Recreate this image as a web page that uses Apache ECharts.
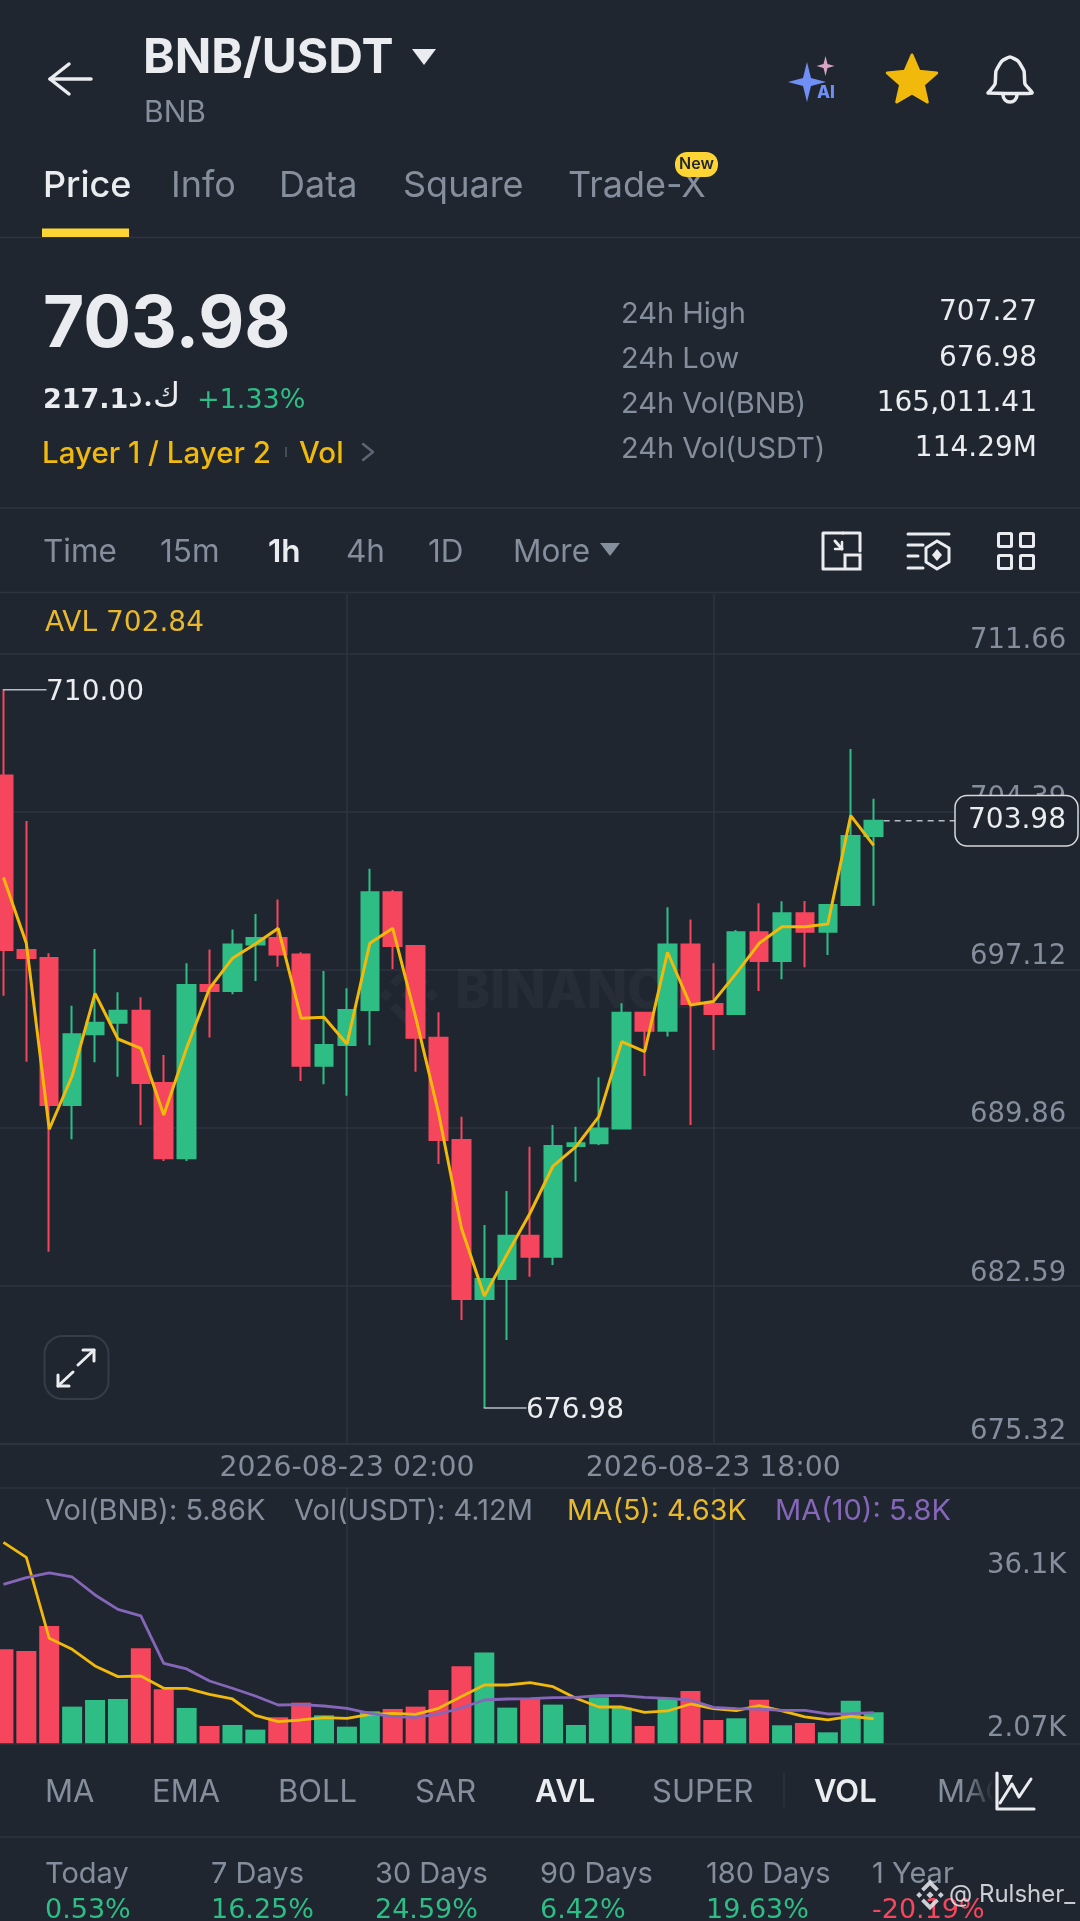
<!DOCTYPE html>
<html><head><meta charset="utf-8">
<style>html,body{margin:0;padding:0;background:#1f2630}#c{width:1080px;height:1921px}</style>
<script src="https://cdn.jsdelivr.net/npm/echarts@6/dist/echarts.min.js"></script>
</head><body><div id="c"></div>
<script>
const categories=['2026-08-22 11:00','2026-08-22 12:00','2026-08-22 13:00','2026-08-22 14:00','2026-08-22 15:00','2026-08-22 16:00','2026-08-22 17:00','2026-08-22 18:00','2026-08-22 19:00','2026-08-22 20:00','2026-08-22 21:00','2026-08-22 22:00','2026-08-22 23:00','2026-08-23 00:00','2026-08-23 01:00','2026-08-23 02:00','2026-08-23 03:00','2026-08-23 04:00','2026-08-23 05:00','2026-08-23 06:00','2026-08-23 07:00','2026-08-23 08:00','2026-08-23 09:00','2026-08-23 10:00','2026-08-23 11:00','2026-08-23 12:00','2026-08-23 13:00','2026-08-23 14:00','2026-08-23 15:00','2026-08-23 16:00','2026-08-23 17:00','2026-08-23 18:00','2026-08-23 19:00','2026-08-23 20:00','2026-08-23 21:00','2026-08-23 22:00','2026-08-23 23:00','2026-08-24 00:00','2026-08-24 01:00'];
const opens=[706.06,698.03,697.66,690.91,694.16,694.69,695.24,691.92,688.46,696.42,696.15,698.29,698.58,697.83,692.71,693.66,695.27,700.69,698.22,694.00,689.30,681.99,682.91,684.90,683.93,689.02,689.15,689.83,695.15,694.32,698.29,695.55,695.09,698.85,697.53,699.72,698.87,700.10,703.27];
const closes=[698.03,697.66,690.91,694.16,694.69,695.24,691.92,688.46,696.42,696.15,698.29,698.58,697.83,692.71,693.66,695.27,700.69,698.22,694.00,689.30,681.99,682.91,684.90,683.93,689.02,689.15,689.83,695.15,694.32,698.29,695.55,695.09,698.85,697.53,699.72,698.87,700.10,703.27,703.98];
const lows=[695.93,692.90,684.16,689.33,692.87,692.21,689.99,688.33,688.33,694.01,696.00,696.61,697.26,692.01,691.86,691.33,693.65,697.16,692.44,688.19,681.02,676.98,680.10,683.01,683.55,687.38,689.07,689.83,692.24,694.05,689.99,693.43,695.09,696.15,696.69,697.24,697.80,700.10,700.07];
const highs=[710.00,703.96,697.88,695.47,698.08,696.09,695.86,693.21,697.42,698.06,698.98,699.69,700.35,697.93,697.07,696.27,701.77,700.79,698.22,695.17,690.37,685.39,686.95,688.99,689.99,689.91,692.18,695.58,695.15,700.00,699.43,697.42,698.95,700.18,700.27,700.29,700.10,707.27,704.99];
const avlLine=[701.37,698.34,689.79,692.24,696.04,693.94,693.51,690.45,693.53,696.27,697.65,698.31,699.03,694.89,694.94,693.71,698.34,699.03,694.95,690.54,685.24,682.12,684.06,685.94,688.10,688.99,690.37,693.82,693.36,697.93,695.50,695.66,696.96,698.34,699.10,699.10,699.23,704.21,702.84];
const volumes=[17.74,17.42,22.14,6.92,8.18,8.36,17.92,10.19,6.67,3.27,3.46,2.58,4.91,7.67,5.28,3.14,6.04,6.48,6.92,10.06,14.53,17.11,6.73,8.49,7.30,3.46,8.68,6.73,3.27,8.36,9.87,4.40,4.72,8.24,3.40,3.83,2.07,8.05,5.86];
const ma5=[37.92,35.09,19.81,17.74,14.59,12.58,12.70,10.38,10.38,9.25,8.36,5.28,4.09,4.40,4.84,4.72,5.47,5.66,5.47,6.60,8.81,11.00,11.00,11.45,10.69,8.49,6.85,6.85,5.85,6.10,7.42,6.54,6.16,7.11,6.10,4.97,4.40,5.09,4.63];
const ma10=[30.00,31.26,32.14,31.38,27.99,25.28,24.03,15.09,14.03,11.76,10.38,8.93,7.23,7.30,7.04,6.60,5.66,5.04,4.91,5.53,6.66,8.17,8.36,8.43,8.62,8.68,9.00,9.00,8.68,8.49,8.17,6.79,6.54,6.47,6.23,6.23,5.53,5.60,5.80];
const priceTicks=[675.32,682.59,689.86,697.12,704.39,711.66];
const volTicks=[2.07,36.1];
const dateTickIdx=[15,31];
const lastPrice=703.98, maxIdx=0, maxPrice=710.00, minIdx=21, minPrice=676.98;

const BG='#1f2630',GRID='#2d3440',GRAY='#848e9c',WHITE='#eaecef',GREEN='#2ebd85',RED='#f6465d',YEL='#f0b90b',PUR='#8566b8';
const FF='Inter',NF='"DejaVu Sans"';
const pad=new Array(9).fill('');
const xData=categories.concat(pad);

const chart=echarts.init(document.getElementById('c'),null,{renderer:'canvas',width:1080,height:1921});

function xAxisOf(gridIndex,withLabel){return {type:'category',gridIndex,data:xData,boundaryGap:true,
  axisLine:{show:true,onZero:false,lineStyle:{color:GRID,width:1.5}},axisTick:{show:false},
  axisLabel:{show:withLabel,interval:(i)=>dateTickIdx.includes(i),color:GRAY,fontFamily:NF,fontSize:28.3,margin:11,hideOverlap:false},
  splitLine:{show:true,alignWithLabel:true,interval:(i)=>dateTickIdx.includes(i),lineStyle:{color:GRID,width:1.5}}};}

const option={
  backgroundColor:BG,animation:false,
  grid:[{left:-8.01,width:1099.2,top:594,height:850,outerBoundsMode:'none',containLabel:false},{left:-8.01,width:1099.2,top:1488,height:255.3,outerBoundsMode:'none',containLabel:false}],
  xAxis:[xAxisOf(0,true),xAxisOf(1,false)],
  yAxis:[
    {type:'value',gridIndex:0,position:'right',min:675.32,max:714.40,scale:true,
     axisLine:{show:false},axisTick:{show:false,customValues:priceTicks},
     splitLine:{show:true,lineStyle:{color:GRID,width:1.5}},
     axisLabel:{inside:true,customValues:priceTicks,margin:25,color:GRAY,fontFamily:NF,fontSize:27.5,lineHeight:25,verticalAlign:'bottom',formatter:v=>v.toFixed(2)}},
    {type:'value',gridIndex:1,position:'right',min:0,max:48.17,axisLine:{show:false},axisTick:{show:false},splitLine:{show:false},axisLabel:{show:false}},
    {type:'value',gridIndex:1,position:'right',min:-0.88,max:52.30,axisLine:{show:false},axisTick:{show:false,customValues:volTicks},splitLine:{show:false},
     axisLabel:{inside:true,customValues:volTicks,margin:25,color:GRAY,fontFamily:NF,fontSize:27.5,verticalAlign:'middle',formatter:v=>v+'K'}}
  ],
  series:[
    {type:'candlestick',xAxisIndex:0,yAxisIndex:0,barWidth:18,z:3,
     data:opens.map((o,i)=>[o,closes[i],lows[i],highs[i]]),
     itemStyle:{color:GREEN,color0:RED,borderColor:GREEN,borderColor0:RED,borderWidth:2}},
    {type:'line',name:'AVL',xAxisIndex:0,yAxisIndex:0,data:avlLine,symbol:'none',z:4,lineStyle:{color:YEL,width:3}},
    {type:'bar',xAxisIndex:1,yAxisIndex:1,data:volumes,barWidth:20,z:3,
     itemStyle:{color:p=>closes[p.dataIndex]>=opens[p.dataIndex]?GREEN:RED}},
    {type:'line',name:'MA5',xAxisIndex:1,yAxisIndex:1,data:ma5,symbol:'none',z:4,lineStyle:{color:YEL,width:2.8}},
    {type:'line',name:'MA10',xAxisIndex:1,yAxisIndex:1,data:ma10,symbol:'none',z:5,lineStyle:{color:PUR,width:2.8}}
  ]
};
chart.setOption(option);

/* ---- page furniture ---- */
const els=[];
function t(text,x,y,size,fill,weight,align,z,fam){els.push({type:'text',z:z||50,x,y,style:{text,fill,font:(weight||400)+' '+size+'px '+(fam||FF),align:align||'left',verticalAlign:'middle'}});}
function pl(points,stroke,w,z,extra){els.push({type:'polyline',z:z||50,shape:Object.assign({points},extra||{}),style:{stroke,lineWidth:w,fill:null,lineCap:'round',lineJoin:'round'}});}
function pg(points,fill,z){els.push({type:'polygon',z:z||50,shape:{points},style:{fill,lineJoin:'round'}});}
function hr(y){els.push({type:'line',z:1,shape:{x1:0,y1:y,x2:1080,y2:y},style:{stroke:GRID,lineWidth:1.5}});}
function box(x,y,w,h,r,stroke,lw,fill,z){els.push({type:'rect',z:z||50,shape:{x,y,width:w,height:h,r},style:{stroke:stroke||null,lineWidth:lw||0,fill:fill||null}});}
function spark(cx,cy,w,h,a,fill){pg([[cx,cy-h],[cx+a,cy-a],[cx+w,cy],[cx+a,cy+a],[cx,cy+h],[cx-a,cy+a],[cx-w,cy],[cx-a,cy-a]],fill);}
function logo(cx,cy,s,c,z){const d=(x,y,r)=>pg([[cx+x,cy+y-r],[cx+x+r,cy+y],[cx+x,cy+y+r],[cx+x-r,cy+y]],c,z);
  d(0,0,s*.24);d(-s*.72,0,s*.2);d(s*.72,0,s*.2);
  const w=s*.26,st=(pts)=>els.push({type:'polyline',z,shape:{points:pts.map(p=>[cx+p[0]*s,cy+p[1]*s])},style:{stroke:c,lineWidth:w,fill:null}});
  st([[-.5,-.33],[0,-.83],[.5,-.33]]);st([[-.5,.33],[0,.83],[.5,.33]]);}

[237.5,508,592.5,1488,1837].forEach(hr);

/* header */
pl([[69,64],[50,79],[69,94]],WHITE,3.5); pl([[50,79],[91,79]],WHITE,3.5);
t('BNB/USDT',143,59,48,WHITE,700);
pg([[412,49],[436,49],[424,65]],WHITE);
t('BNB',144,113,30,GRAY);
spark(807,82,19,20,4,'#6f8ff5'); spark(825.5,66,9,10,2,'#d9a3c4'); t('AI',817,93,17,'#6f8ff5',800);
(function(){const c=[912,81],R=26,r=12,p=[];for(let i=0;i<10;i++){const a=-Math.PI/2+i*Math.PI/5,q=i%2?r:R;p.push([c[0]+q*Math.cos(a),c[1]+q*Math.sin(a)]);}els.push({type:'polygon',z:50,shape:{points:p},style:{fill:YEL,stroke:YEL,lineWidth:3,lineJoin:'round'}});})();
pl([[988,93],[995,84],[996,71],[1002,61],[1010,57],[1018,61],[1024,71],[1025,84],[1032,93],[988,93]],WHITE,3.5,50,{smooth:0.15});
els.push({type:'arc',z:50,shape:{cx:1010,cy:95,r:7,startAngle:0,endAngle:Math.PI,clockwise:true},style:{stroke:WHITE,lineWidth:3.5,fill:null}});

/* tabs */
[['Price',43,WHITE,500],['Info',171,GRAY,400],['Data',279,GRAY,400],['Square',403,GRAY,400],['Trade-X',568,GRAY,400]].forEach(a=>t(a[0],a[1],186,36,a[2],a[3]));
box(675,152,43,25,12,null,0,'#fcd535',51); t('New',696.5,164.5,16,'#1f2630',600,'center',52);
box(42,228.5,87,8.5,0,null,0,'#fcd535');

/* price block */
t('703.98',43,326,71,WHITE,700);
t('217.1',43,401,27,WHITE,700,'left',50,NF);
t('ك.د',128,396,33,WHITE,500);
t('+1.33%',197,401,27,GREEN,400,'left',50,NF);
t('Layer 1 / Layer 2',42,454,29.5,'#f0b90b',500);
box(285,447,2,10,0,null,0,'#474d57');
t('Vol',299,454,29.5,'#f0b90b',500);
pl([[363,444],[373,452],[363,460]],'#5e6673',2.5);
const statY=[314,359,404,449],valY=[313,359,404,449];
['24h High','24h Low','24h Vol(BNB)','24h Vol(USDT)'].forEach((s,i)=>t(s,621,statY[i],29,GRAY));
['707.27','676.98','165,011.41','114.29M'].forEach((s,i)=>t(s,1037,valY[i],28,WHITE,400,'right',50,NF));

/* interval row */
[['Time',43,GRAY,400],['15m',160,GRAY,400],['1h',268,WHITE,600],['4h',346,GRAY,400],['1D',428,GRAY,400],['More',513,GRAY,400]].forEach(a=>t(a[0],a[1],553,31.5,a[2],a[3]));
pg([[600,543],[620,543],[610,556]],GRAY);
pl([[843,533],[823,533],[823,569],[843,569]],WHITE,3); pl([[843,533],[860,533],[860,551]],WHITE,3);
box(845,555,15,14,0,WHITE,3,null); pl([[835,541],[842,549]],WHITE,3); pl([[835,549],[842,549],[842,542]],WHITE,2.5);
pl([[908,534],[949,534]],WHITE,3); pl([[908,545],[923,545]],WHITE,3); pl([[908,568],[923,568]],WHITE,3); pl([[908,556],[918,556]],WHITE,3);
pl([[937,541],[949,548],[949,562],[937,569],[926,562],[926,548],[937,541]],WHITE,3);
pg([[937,549],[942,555],[937,561],[932,555]],WHITE);
[[997,532],[1019,532],[997,554],[1019,554]].forEach(p=>box(p[0]+1.5,p[1]+1.5,13,13,1,WHITE,3,null));

/* chart overlays */
t('AVL 702.84',45,624,28,'#e8b92f',400,'left',50,NF);
t('BINANCE',455,992,53,'rgba(255,255,255,0.035)',800,'left',1);
logo(409,995,32,'rgba(255,255,255,0.035)',1);
box(44.5,1336,64,63,18,'#363d4a',2,null);
pl([[78,1365],[94,1350]],WHITE,3); pl([[83,1350],[94,1350],[94,1361]],WHITE,3);
pl([[73,1372],[58,1386]],WHITE,3); pl([[58,1375],[58,1386],[69,1386]],WHITE,3);

/* volume legend */
t('Vol(BNB): 5.86K',45,1511,29,GRAY); t('Vol(USDT): 4.12M',294,1511,29,GRAY);
t('MA(5): 4.63K',567,1511,28.6,'#e8b92f'); t('MA(10): 5.8K',775,1511,29,PUR);

/* indicator row */
[['MA',45,GRAY,400],['EMA',152,GRAY,400],['BOLL',278,GRAY,400],['SAR',415,GRAY,400],['AVL',535,WHITE,600],['SUPER',652,GRAY,400],['VOL',814,WHITE,600],['MACD',937,GRAY,400]].forEach(a=>t(a[0],a[1],1793,31,a[2],a[3]));
els.push({type:'line',z:50,shape:{x1:784,y1:1773,x2:784,y2:1807},style:{stroke:GRID,lineWidth:1.5}});
els.push({type:'rect',z:53,shape:{x:965,y:1765,width:115,height:55},style:{fill:{type:'linear',x:0,y:0,x2:0.25,y2:0,colorStops:[{offset:0,color:'rgba(31,38,48,0)'},{offset:1,color:BG}]}}});
pl([[997,1773],[997,1809],[1034,1809]],WHITE,3.2,54);
pl([[1000,1803],[1012,1784],[1019,1797],[1031,1779]],WHITE,3,54);
pg([[1002,1775],[1013,1775],[1007.5,1786]],WHITE,54);

/* performance row */
const perfNames=['Today','7 Days','30 Days','90 Days','180 Days','1 Year'];
const perfVals=['0.53%','16.25%','24.59%','6.42%','19.63%','-20.19%'];
const perfX=[45,211,375,540,706,872];
perfNames.forEach((s,i)=>t(s,perfX[i],1874,29,GRAY));
perfVals.forEach((s,i)=>t(s,perfX[i],1911,27,i===5?RED:GREEN,400,'left',50,NF));
logo(930,1895,15,'rgba(234,236,239,0.85)',60);
t('@ Rulsher_',949,1895,24,'rgba(234,236,239,0.85)',400,'left',60);

/* annotations placed through the chart's own scales */
const P=(c,v)=>chart.convertToPixel({xAxisIndex:0,yAxisIndex:0},[c,v]);
const hi=P(maxIdx,maxPrice),lo=P(minIdx,minPrice),la=P(categories.length-1,lastPrice);
pl([[hi[0],hi[1]],[46,hi[1]]],'#b7bdc6',1.5,60);
t(maxPrice.toFixed(2),46,hi[1]+3,28,WHITE,400,'left',60,NF);
pl([[lo[0],lo[1]],[526,lo[1]]],'#b7bdc6',1.5,60);
t(minPrice.toFixed(2),526,lo[1]+3,28,WHITE,400,'left',60,NF);
els.push({type:'line',z:60,shape:{x1:la[0]+10,y1:la[1],x2:955,y2:la[1]},style:{stroke:'#b7bdc6',lineWidth:1.5,lineDash:[6,5]}});
box(955,795.5,123,50.5,12,'#d5d8dc',1.5,BG,61);
t(lastPrice.toFixed(2),1017,821,28,WHITE,400,'center',62,NF);

chart.setOption({graphic:{elements:els}});
</script></body></html>
